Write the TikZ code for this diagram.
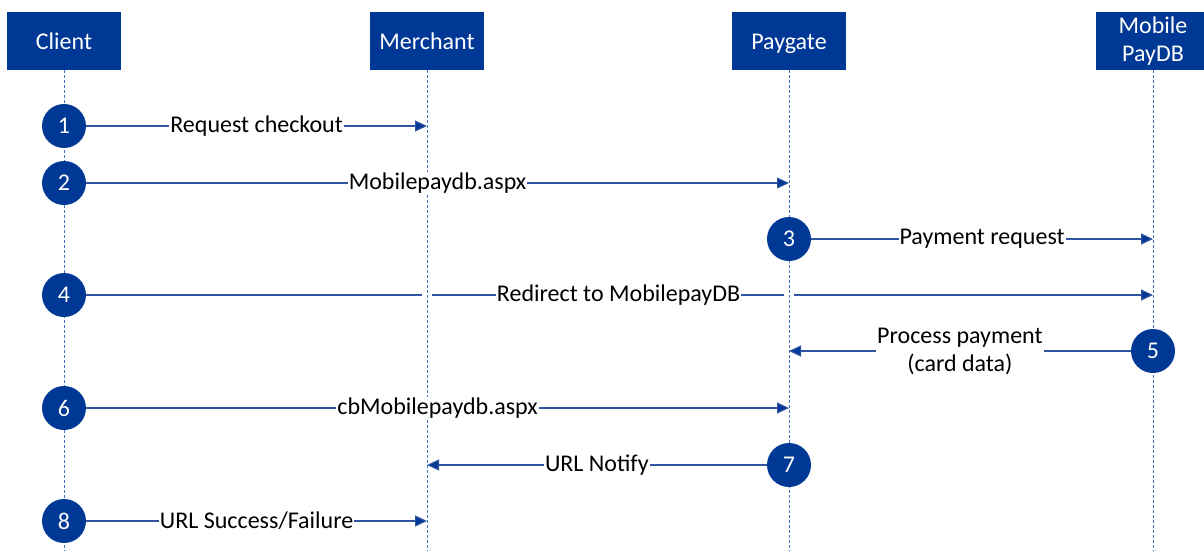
\documentclass[tikz,border=0pt]{standalone}
\usepackage{fontspec}
\setmainfont{Carlito}
\usetikzlibrary{positioning,arrows}
\usetikzlibrary{shapes}
\usetikzlibrary{arrows.meta}
\usepackage{xcolor}
\definecolor{pgblue}{RGB}{0,56,150}
\definecolor{pgline}{RGB}{47,85,160}
\definecolor{pglife}{RGB}{68,114,196}

\begin{document}
\begin{tikzpicture}[x=1pt,y=-1pt]
	\useasboundingbox (0,0) rectangle (1204,551);
	\tikzset{msg/.style={draw=pgline, line width=1.1pt, -{Triangle[length=12pt,width=11pt,fill=pgblue]}},
		lbl/.style={fill=white, inner sep=1pt, text=black, font=\fontsize{24}{28}\selectfont},
		life/.style={draw=pglife, line width=1pt, dash pattern=on 3pt off 2pt}}
	\tikzstyle{every node}=[rectangle, fill=pgblue, text=white, font=\fontsize{24}{28}\selectfont, minimum width=114pt, minimum height=58pt, align=center, inner sep=0pt, text height=17pt, text depth=1pt]
	\draw (64,41) node (client) {Client};
	\draw (427,41) node (merchant) {Merchant};
	\draw (789,41) node (paygate) {Paygate};
	\draw (1153,41) node (paydb) [text height=, text depth=] {Mobile\\PayDB};
	% lifelines
	\coordinate (cEnd) at (64,551);
	\coordinate (mEnd) at (427,551);
	\coordinate (pEnd) at (789,551);
	\coordinate (dEnd) at (1153,551);
	\draw [life] (client) -- (cEnd);
	\draw [life] (merchant) -- (mEnd);
	\draw [life] (paygate) -- (pEnd);
	\draw [life] (paydb) -- (dEnd);
	% step circles
	\tikzstyle{every node}=[circle, fill=pgblue, text=white, font=\fontsize{24}{28}\selectfont, minimum size=44pt, inner sep=0pt]
	\draw (64,126) node (s1) {1};
	\draw (64,183) node (s2) {2};
	\draw (789,239) node (s3) {3};
	\draw (64,295) node (s4) {4};
	\draw (1153,351) node (s5) {5};
	\draw (64,408) node (s6) {6};
	\draw (789,465) node (s7) {7};
	\draw (64,521) node (s8) {8};
	% message ends
	\coordinate (m1) at (427,126);
	\coordinate (p2) at (789,183);
	\coordinate (d3) at (1153,239);
	\coordinate (m4a) at (422,295);
	\coordinate (m4b) at (432,295);
	\coordinate (p4a) at (784,295);
	\coordinate (p4b) at (794,295);
	\coordinate (d4) at (1153,295);
	\coordinate (p5) at (789,351);
	\coordinate (p6) at (789,408);
	\coordinate (m7) at (427,465);
	\coordinate (m8) at (427,521);
	\tikzstyle{every node}=[lbl]
	\draw [msg] (s1) to node {Request checkout} (m1);
	\draw [msg] (s2) to node {Mobilepaydb.aspx} (p2);
	\draw [msg] (s3) to node {Payment request} (d3);
	\draw [msg, -] (s4) to (m4a);
	\draw [msg, -] (m4b) to node[pos=0.53] {Redirect to MobilepayDB} (p4a);
	\draw [msg] (p4b) to (d4);
	\draw [msg] (s5) to node[align=center] {Process payment\\(card data)} (p5);
	\draw [msg] (s6) to node {cbMobilepaydb.aspx} (p6);
	\draw [msg] (s7) to node {URL Notify} (m7);
	\draw [msg] (s8) to node {URL Success/Failure} (m8);
\end{tikzpicture}
\end{document}
